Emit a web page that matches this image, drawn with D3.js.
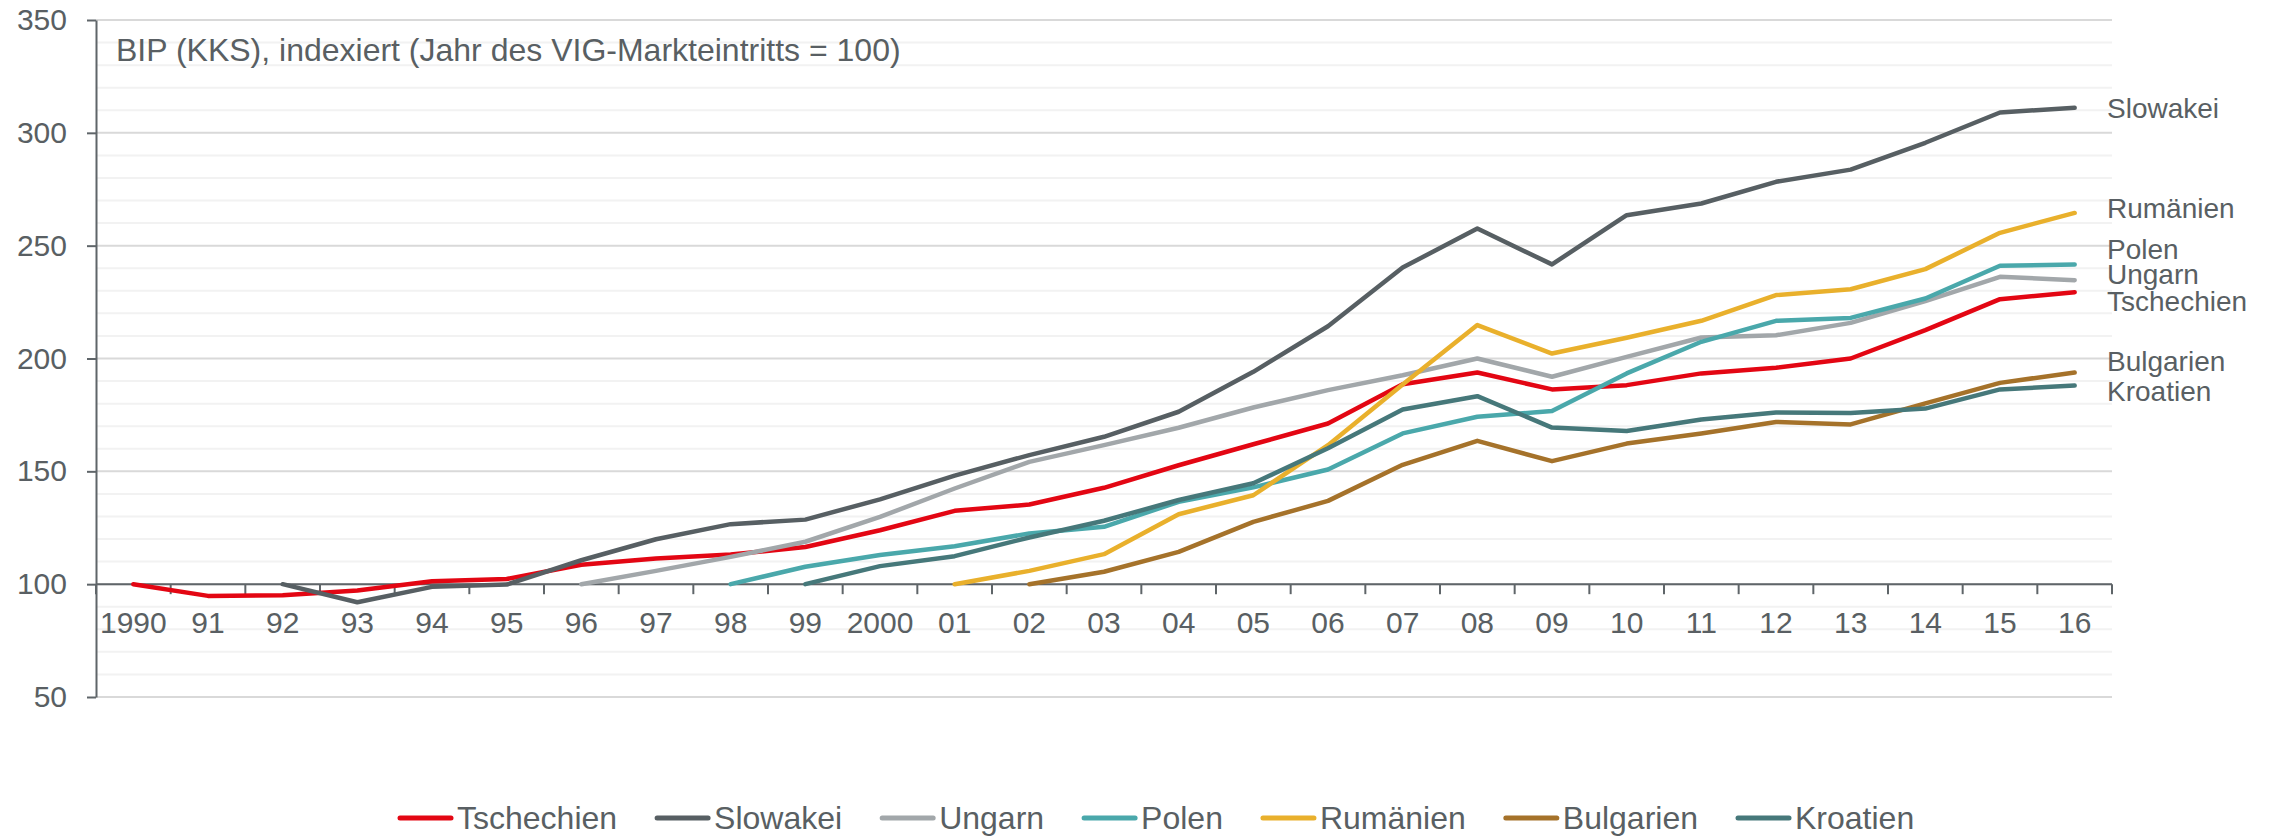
<!DOCTYPE html>
<html>
<head>
<meta charset="utf-8">
<script src="https://cdn.jsdelivr.net/npm/d3@7"></script>
<style>
    body { margin: 0; background: #fff; }
    svg text { font-family: "Liberation Sans", Arial, sans-serif; fill: #595f63; }
</style>
</head>
<body>
<div id="chart"></div>
<script>
// Year labels (1990 - 2016)
const years = ['1990', '91', '92', '93', '94', '95', '96', '97', '98', '99', '2000',
    '01', '02', '03', '04', '05', '06', '07', '08', '09', '10', '11', '12', '13', '14', '15', '16'];

// Index values, market entry year = 100 (null before entry)
const tschechien = [100, 94.8, 95.1, 97.2, 101.3, 102.3, 108.6, 111.4, 113.1, 116.5, 123.9,
    132.5, 135.3, 142.7, 152.7, 162, 171.2, 188.6, 193.8, 186.3, 188.2, 193.4, 195.9, 200, 212.6, 226.3, 229.4];
const slowakei = [null, null, 100, 92, 98.8, 99.8, 110.6, 119.9, 126.6, 128.6, 137.6,
    148.1, 157.2, 165.3, 176.4, 194.1, 214.3, 240.3, 257.6, 241.7, 263.5, 268.7, 278.3, 283.7, 295.6, 309, 311.1];
const ungarn = [null, null, null, null, null, null, 100, 105.9, 112.1, 118.8, 129.8,
    142.4, 154.2, 161.6, 169.3, 178.3, 186, 192.6, 200, 191.9, 200.7, 209.3, 210.3, 215.8, 225.4, 236.2, 234.7];
const polen = [null, null, null, null, null, null, null, null, 100, 107.7, 112.9,
    116.8, 122.5, 125.4, 136.5, 142.9, 150.8, 166.8, 174.2, 176.7, 193.4, 207.4, 216.7, 218, 226.6, 241.1, 241.7];
const rumaenien = [null, null, null, null, null, null, null, null, null, null, null,
    100, 105.9, 113.3, 131, 139.4, 161.6, 188.5, 214.8, 202.2, 209.2, 216.7, 228.1, 230.7, 239.6, 255.7, 264.5];
const bulgarien = [null, null, null, null, null, null, null, null, null, null, null,
    null, 100, 105.5, 114.3, 127.6, 136.9, 152.9, 163.5, 154.5, 162.3, 166.8, 171.9, 170.8, 180.1, 189.2, 193.8];
const kroatien = [null, null, null, null, null, null, null, null, null, 100, 108,
    112.4, 120.7, 128.1, 137.3, 144.7, 160.2, 177.4, 183.3, 169.4, 167.9, 173, 176.1, 175.9, 177.8, 186.3, 188];

const seriesNames = ['Tschechien', 'Slowakei', 'Ungarn', 'Polen', 'Rumänien', 'Bulgarien', 'Kroatien'];
const seriesValues = [tschechien, slowakei, ungarn, polen, rumaenien, bulgarien, kroatien];
const seriesColors = ['#e30613', '#575f63', '#a2a7aa', '#4aa8ab', '#e9b02c', '#a5722a', '#46787a'];

const yTicks = [50, 100, 150, 200, 250, 300, 350];
const title = 'BIP (KKS), indexiert (Jahr des VIG-Markteintritts = 100)';

const width = 2272;
const height = 836;
const textColor = '#595f63';
const axisColor = '#5f6569';

const svg = d3.select('#chart')
    .append('svg')
    .attr('width', width)
    .attr('height', height);

svg.append('rect').attr('width', width).attr('height', height).attr('fill', '#fff');

// Scales
const x = d3.scalePoint()
    .domain(years)
    .range([96, 2112])
    .padding(0.5);
const step = x.step();

const y = d3.scaleLinear()
    .domain([50, 350])
    .range([697, 20]);

const left = x.range()[0];
const right = x.range()[1];

// Gridlines: light every 10, darker every 50
const grid = svg.append('g');
d3.range(50, 351, 10).forEach(v => {
    const major = v % 50 === 0;
    grid.append('line')
        .attr('x1', left)
        .attr('x2', right)
        .attr('y1', y(v))
        .attr('y2', y(v))
        .attr('stroke', major ? '#d9d9d9' : '#f2f2f2')
        .attr('stroke-width', 2);
});

// Y axis
const yAxis = svg.append('g')
    .attr('transform', `translate(${left},0)`)
    .call(d3.axisLeft(y).tickValues(yTicks).tickSizeInner(9).tickSizeOuter(0).tickPadding(20));
yAxis.select('.domain').attr('stroke', axisColor).attr('stroke-width', 2);
yAxis.selectAll('.tick line').attr('stroke', axisColor).attr('stroke-width', 2);
yAxis.selectAll('.tick text')
    .attr('fill', textColor)
    .style('font-size', '30px')
    .style('font-family', '"Liberation Sans", Arial, sans-serif');

// X axis at 100, ticks between categories
const xAxisY = y(100);
const xAxis = svg.append('g');
xAxis.append('line')
    .attr('x1', left)
    .attr('x2', right)
    .attr('y1', xAxisY)
    .attr('y2', xAxisY)
    .attr('stroke', axisColor)
    .attr('stroke-width', 2);

const boundaries = years.map(d => x(d) - step / 2).concat([x(years[years.length - 1]) + step / 2]);
xAxis.selectAll('.xtick')
    .data(boundaries)
    .enter()
    .append('line')
    .attr('x1', d => d)
    .attr('x2', d => d)
    .attr('y1', xAxisY)
    .attr('y2', xAxisY + 10)
    .attr('stroke', axisColor)
    .attr('stroke-width', 2);

xAxis.selectAll('.xlabel')
    .data(years)
    .enter()
    .append('text')
    .attr('x', d => x(d))
    .attr('y', 633)
    .attr('text-anchor', 'middle')
    .style('font-size', '30px')
    .text(d => d);

// Title
svg.append('text')
    .attr('x', 116)
    .attr('y', 61)
    .style('font-size', '32px')
    .text(title);

// Lines
const line = d3.line()
    .defined(d => d.v !== null)
    .x(d => x(d.year))
    .y(d => y(d.v));

const series = seriesNames.map((name, i) => ({
    name: name,
    color: seriesColors[i],
    points: years.map((yr, j) => ({ year: yr, v: seriesValues[i][j] }))
}));

svg.append('g')
    .selectAll('path')
    .data(series)
    .enter()
    .append('path')
    .attr('d', d => line(d.points))
    .attr('fill', 'none')
    .attr('stroke', d => d.color)
    .attr('stroke-width', 4.5)
    .attr('stroke-linecap', 'round')
    .attr('stroke-linejoin', 'round');

// End labels, nudged apart where they would overlap
const labelNudge = { 'Tschechien': 9, 'Slowakei': 0, 'Ungarn': -6, 'Polen': -15, 'Rumänien': -5, 'Bulgarien': -11, 'Kroatien': 6 };
svg.append('g')
    .selectAll('text')
    .data(series)
    .enter()
    .append('text')
    .attr('x', right - 5)
    .attr('y', d => y(d.points[d.points.length - 1].v) + labelNudge[d.name])
    .attr('dy', '0.35em')
    .style('font-size', '28px')
    .text(d => d.name);

// Legend
const legend = svg.append('g');
let lx = 398;
const ly = 818;
series.forEach(d => {
    legend.append('line')
        .attr('x1', lx + 2)
        .attr('x2', lx + 53)
        .attr('y1', ly)
        .attr('y2', ly)
        .attr('stroke', d.color)
        .attr('stroke-width', 5)
        .attr('stroke-linecap', 'round');
    const t = legend.append('text')
        .attr('x', lx + 59)
        .attr('y', ly)
        .attr('dy', '0.35em')
        .style('font-size', '32px')
        .text(d.name);
    lx += 59 + t.node().getComputedTextLength() + 38;
});
</script>
</body>
</html>
